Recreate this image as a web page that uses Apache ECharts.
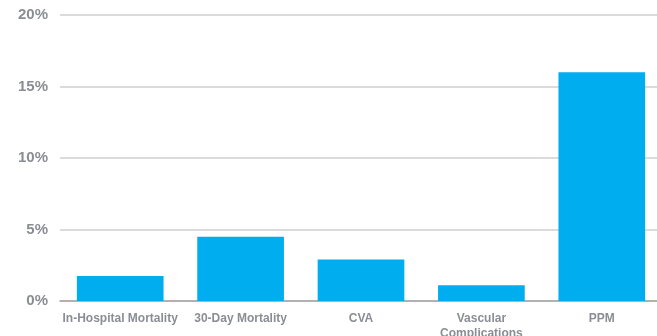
<!DOCTYPE html>
<html>
<head>
<meta charset="utf-8">
<script src="https://cdn.jsdelivr.net/npm/echarts@6/dist/echarts.min.js"></script>
<style>
  html, body { margin: 0; padding: 0; background: #ffffff; }
  #chart { width: 657px; height: 336px; }
</style>
</head>
<body>
<div id="chart"></div>
<script>
// Outcome categories and event rates (%)
const categories = ['In-Hospital Mortality', '30-Day Mortality', 'CVA', 'Vascular\nComplications', 'PPM'];
const rates = [1.75, 4.5, 2.9, 1.1, 16.0];
const yTicks = [0, 5, 10, 15, 20];

const labelColor = '#8a8e94';
const fontFamily = '"Liberation Sans", Arial, sans-serif';

const chart = echarts.init(document.getElementById('chart'), null, { renderer: 'canvas' });
chart.setOption({
  animation: false,
  // fixed plot box; the two-line label is allowed to run past the bottom edge
  grid: { left: 60, right: -5, top: 15, bottom: 35, containLabel: false, outerBoundsMode: 'none' },
  xAxis: {
    type: 'category',
    data: categories,
    axisTick: { show: false },
    axisLine: { lineStyle: { color: '#a4a4a4', width: 1.5 } },
    axisLabel: {
      color: labelColor,
      fontFamily: fontFamily,
      fontWeight: 'bold',
      fontSize: 12,
      lineHeight: 15,
      margin: 10,
      interval: 0
    }
  },
  yAxis: {
    type: 'value',
    min: yTicks[0],
    max: yTicks[yTicks.length - 1],
    interval: 5,
    axisLine: { show: false },
    axisTick: { show: false },
    splitLine: { lineStyle: { color: '#cfcfcf', width: 1.5 } },
    axisLabel: {
      color: labelColor,
      fontFamily: fontFamily,
      fontWeight: 'bold',
      fontSize: 15,
      margin: 12,
      formatter: v => v + '%'
    }
  },
  series: [{
    type: 'bar',
    data: rates,
    barWidth: '72%',
    itemStyle: { color: '#00adee' }
  }]
});
</script>
</body>
</html>
